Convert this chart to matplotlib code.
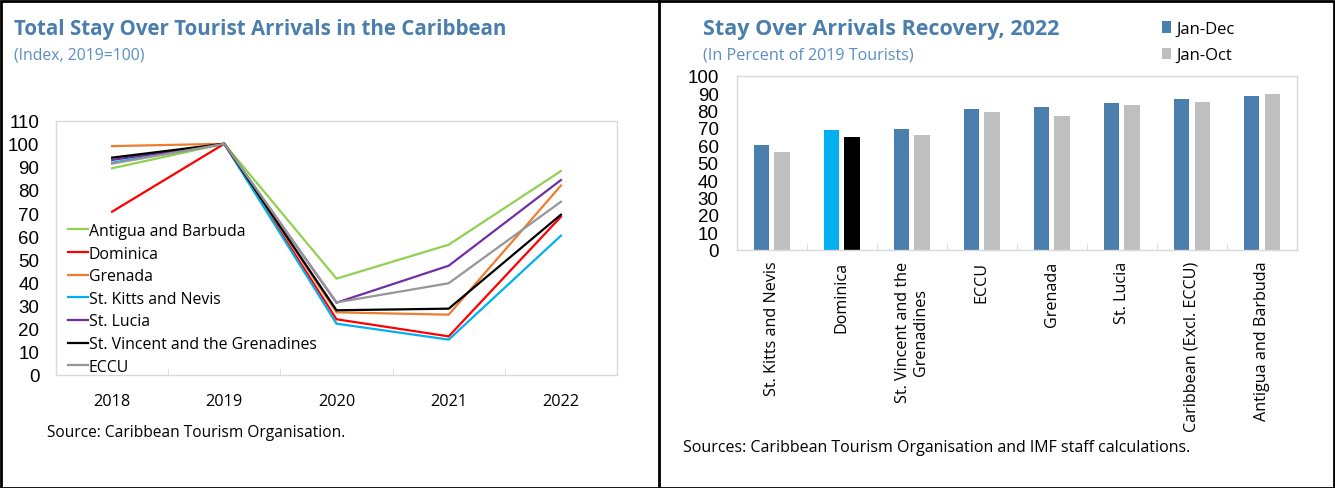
import matplotlib
matplotlib.use('Agg')
import matplotlib.pyplot as plt
from matplotlib.lines import Line2D
from matplotlib.patches import Rectangle, Patch
import numpy as np

# ---------------- data ----------------
years = ['2018', '2019', '2020', '2021', '2022']
antigua = [89.4, 100, 41.6, 56.3, 88.2]
dominica = [70.6, 100, 24.0, 16.6, 68.4]
grenada = [99.0, 100, 27.0, 26.0, 81.9]
st_kitts = [91.8, 100, 22.1, 15.2, 60.2]
st_lucia = [93.0, 100, 31.2, 47.2, 84.3]
st_vincent = [94.0, 100, 27.9, 28.6, 69.3]
eccu = [91.4, 100, 31.3, 39.6, 74.9]

line_names = ['Antigua and Barbuda', 'Dominica', 'Grenada', 'St. Kitts and Nevis',
              'St. Lucia', 'St. Vincent and the Grenadines', 'ECCU']
line_series = [antigua, dominica, grenada, st_kitts, st_lucia, st_vincent, eccu]
line_colors = ['#92d050', '#ff0000', '#ed7d31', '#00b0f0', '#7030a0', '#000000', '#969696']

bar_categories = ['St. Kitts and Nevis', 'Dominica', 'St. Vincent and the\nGrenadines', 'ECCU',
                  'Grenada', 'St. Lucia', 'Caribbean (Excl. ECCU)', 'Antigua and Barbuda']
jan_dec = [60.0, 68.6, 69.2, 81.0, 81.8, 84.1, 86.8, 88.1]
jan_oct = [56.3, 64.6, 66.1, 79.1, 76.6, 83.0, 84.9, 89.3]

# ---------------- style ----------------
W, H = 1335, 489
FONT = ['Open Sans', 'DejaVu Sans']
NUMFONT = ['Liberation Sans Narrow', 'Liberation Sans', 'DejaVu Sans']
TITLE_C = '#4a7eac'
SUB_C = '#5b8ec4'
BLUE = '#4a7ead'
GRAY = '#bfbfbf'
SPINE = '#d9d9d9'
plt.rcParams['font.family'] = FONT

fig = plt.figure(figsize=(W / 100, H / 100), dpi=100)


def px_axes(x0, y0, x1, y1):
    return fig.add_axes([x0 / W, 1 - y1 / H, (x1 - x0) / W, (y1 - y0) / H])


def ftext(x, y, s, **kw):
    fig.text(x / W, 1 - y / H, s, **kw)


# ---------------- left chart ----------------
LX0, LY0, LX1, LY1 = 56, 121.7, 617, 375.7
ax = px_axes(LX0, LY0, LX1, LY1)
x = np.arange(len(years))
for name, vals, col in zip(line_names, line_series, line_colors):
    ax.plot(x, vals, color=col, lw=1.6, label=name, solid_joinstyle='miter')
ax.set_xlim(-0.5, len(years) - 0.5)
ax.set_ylim(0, 110)
ax.set_yticks(range(0, 111, 10))
ax.set_xticks(x)
ax.set_xticklabels(years)
ax.set_xticks(np.arange(0.5, len(years) - 1, 1), minor=True)
ax.tick_params(axis='x', which='major', length=0, pad=13, labelsize=11.7)
ax.tick_params(axis='x', which='minor', length=5, color=SPINE, direction='in')
ax.tick_params(axis='y', length=0, pad=12, labelsize=13.5)
for lab in ax.get_yticklabels():
    lab.set_family(NUMFONT)
for sp in ax.spines.values():
    sp.set_color(SPINE)
    sp.set_linewidth(1)
leg_center_y = (232.7 + 367) / 2
ax.legend(loc='center left',
          bbox_to_anchor=((68 - LX0) / (LX1 - LX0), (LY1 - leg_center_y) / (LY1 - LY0)),
          frameon=False, handlelength=1.27, handletextpad=0.05, labelspacing=0.42,
          fontsize=11.4, borderaxespad=0, borderpad=0)

ftext(14, 30, 'Total Stay Over Tourist Arrivals in the Caribbean', fontsize=14.8,
      fontweight='bold', color=TITLE_C, va='center', ha='left')
ftext(14, 55, '(Index, 2019=100)', fontsize=11.3, color=SUB_C, va='center', ha='left')
ftext(47, 433, 'Source: Caribbean Tourism Organisation.', fontsize=11.2, va='center', ha='left')

# ---------------- right chart ----------------
ax2 = px_axes(736.6, 76.7, 1297, 250.7)
xb = np.arange(len(bar_categories))
bw = 0.22
off = 0.147
dec_colors = [BLUE] * len(bar_categories)
oct_colors = [GRAY] * len(bar_categories)
dec_colors[1] = '#00b0f0'
oct_colors[1] = '#000000'
ax2.bar(xb - off, jan_dec, width=bw, color=dec_colors, label='Jan-Dec')
ax2.bar(xb + off, jan_oct, width=bw, color=oct_colors, label='Jan-Oct')
ax2.set_xlim(-0.5, len(bar_categories) - 0.5)
ax2.set_ylim(0, 100)
ax2.set_yticks(range(0, 101, 10))
ax2.set_xticks(xb)
ax2.set_xticklabels(bar_categories, rotation=90, va='top', ha='center', multialignment='center')
ax2.set_xticks(np.arange(0.5, len(bar_categories) - 1, 1), minor=True)
ax2.tick_params(axis='x', which='major', length=0, pad=8, labelsize=11.6)
ax2.tick_params(axis='x', which='minor', length=5, color=SPINE, direction='in')
ax2.tick_params(axis='y', length=0, pad=13, labelsize=13.5)
for lab in ax2.get_yticklabels():
    lab.set_family(NUMFONT)
for sp in ax2.spines.values():
    sp.set_color(SPINE)
    sp.set_linewidth(1)

handles = [Patch(facecolor=BLUE, edgecolor='none'), Patch(facecolor=GRAY, edgecolor='none')]
fig.legend(handles, ['Jan-Dec', 'Jan-Oct'], loc='upper left',
           bbox_to_anchor=(1162 / W, 1 - 22 / H), frameon=False, fontsize=12,
           handlelength=0.55, handleheight=0.7, handletextpad=0.3, labelspacing=0.62,
           borderpad=0, borderaxespad=0)

ftext(703, 30, 'Stay Over Arrivals Recovery, 2022', fontsize=15.5,
      fontweight='bold', color=TITLE_C, va='center', ha='left')
ftext(703, 55, '(In Percent of 2019 Tourists)', fontsize=11.6, color=SUB_C, va='center', ha='left')
ftext(683, 448, 'Sources: Caribbean Tourism Organisation and IMF staff calculations.',
      fontsize=11.5, va='center', ha='left')

# ---------------- frames ----------------
fig.add_artist(Rectangle((0.5 / W, 0.5 / H), (W - 2) / W, (H - 2) / H, transform=fig.transFigure,
                         fill=False, ec='black', lw=2))
fig.add_artist(Line2D([659 / W, 659 / W], [0, 1], transform=fig.transFigure, color='black', lw=2))

fig.savefig('out.png', dpi=100)
